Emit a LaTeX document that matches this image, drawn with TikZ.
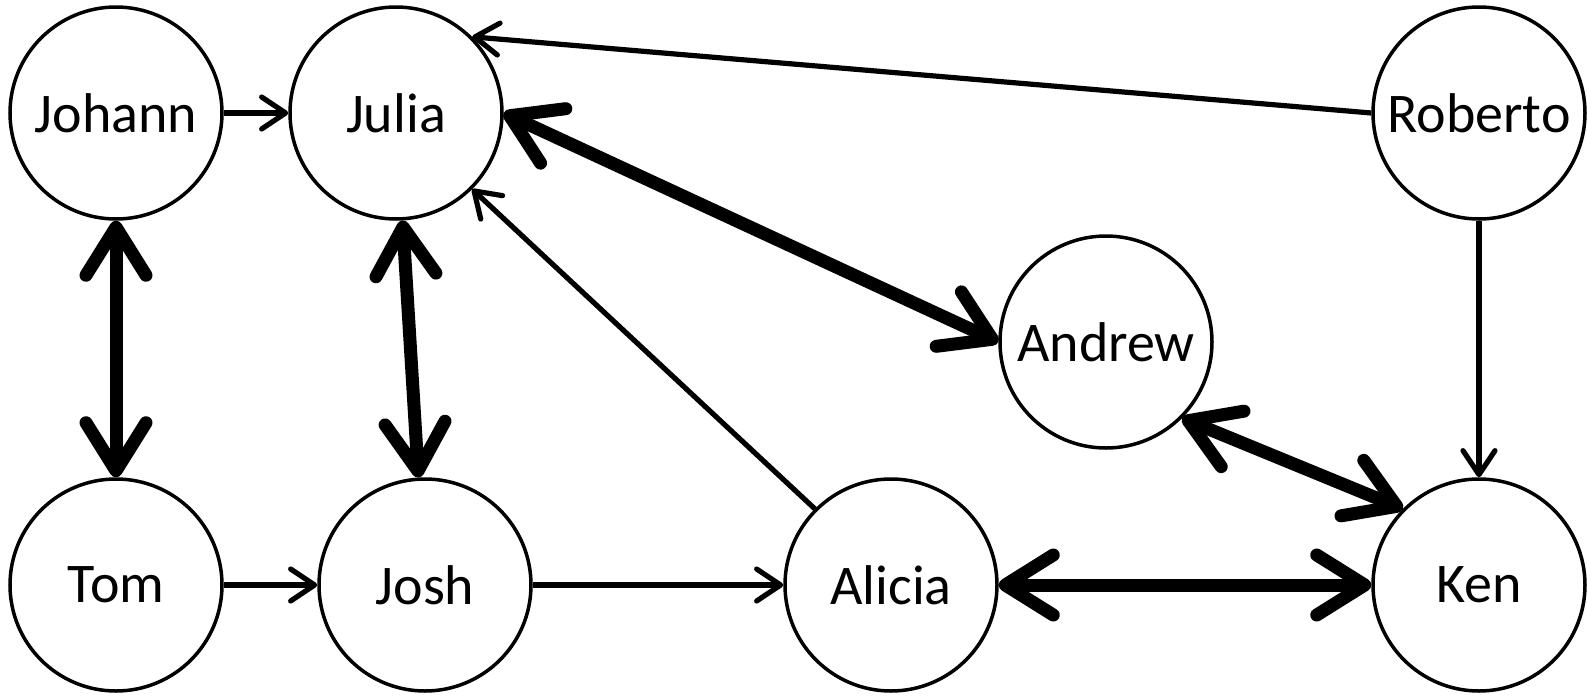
\documentclass[tikz,border=0pt]{standalone}
\usepackage{fontspec}
\setmainfont{Carlito}
\usetikzlibrary{arrows.meta}
\tikzset{
  pers/.style={
    draw=black, circle, line width=1.75pt, fill=white,
    minimum size=106pt, inner sep=0pt, font=\fontsize{28}{32}\selectfont
  },
  arr/.style={-{Straight Barb[length=12pt,width=16pt,round]}, line width=2.6pt},
  barr/.style={{Straight Barb[length=24pt,width=30pt,round]}-{Straight Barb[length=24pt,width=30pt,round]}, line width=6.5pt}
}

\begin{document}
\begin{tikzpicture}[x=0.5pt,y=-0.5pt]
  \useasboundingbox (0,0) rectangle (1587,697);
  \node[pers] (johann)  at (116,113)  {Johann};
  \node[pers] (julia)   at (396,113)  {Julia};
  \node[pers] (roberto) at (1479,113) {Roberto};
  \node[pers] (andrew)  at (1106,342) {Andrew};
  \node[pers] (tom)     at (116,585)  {Tom};
  \node[pers] (josh)    at (425,585)  {Josh};
  \node[pers] (alicia)  at (891,585)  {Alicia};
  \node[pers] (ken)     at (1479,585) {Ken};
  % one way
  \draw[arr] (johann) -- (julia);
  \draw[arr] (tom) -- (josh);
  \draw[arr] (josh) -- (alicia);
  \draw[arr] (alicia.north west) -- (julia.south east);
  \draw[arr] (roberto.west) -- (julia.north east);
  \draw[arr] (roberto) -- (ken);
  % both ways
  \draw[barr] (johann) -- (tom);
  \draw[barr] (julia) -- (josh);
  \draw[barr] (julia.east) -- (andrew.west);
  \draw[barr] (andrew.south east) -- (ken.north west);
  \draw[barr] (alicia) -- (ken);
\end{tikzpicture}
\end{document}
